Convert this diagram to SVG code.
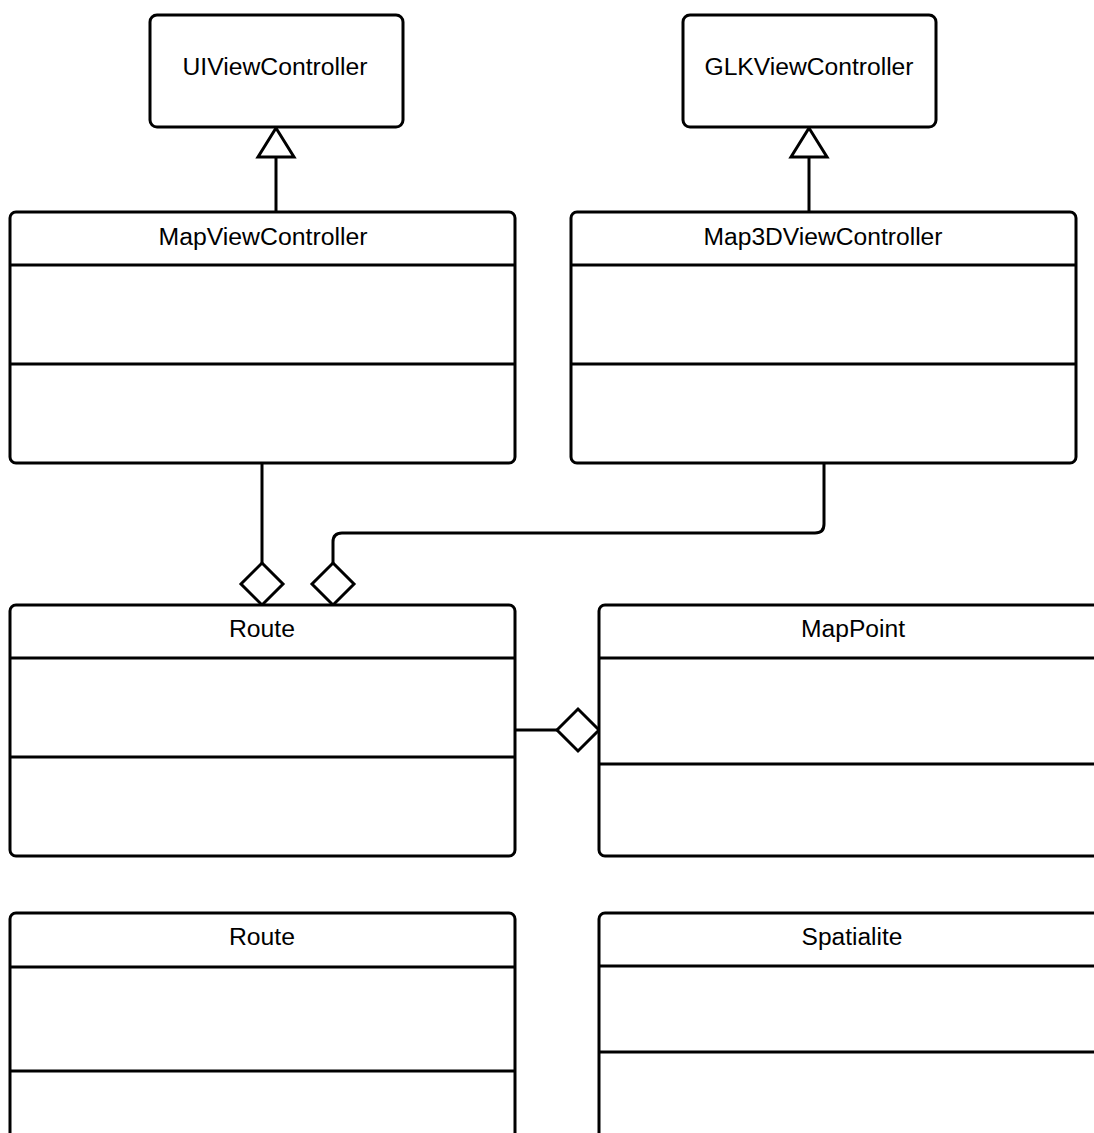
<svg xmlns="http://www.w3.org/2000/svg" width="1094" height="1133" viewBox="0 0 1094 1133">
<style>
.box{fill:#fff;stroke:#000;stroke-width:3}
.div{stroke:#000;stroke-width:3;fill:none}
.ln{stroke:#000;stroke-width:3;fill:none}
.hd{fill:#fff;stroke:#000;stroke-width:3}
text{font-family:"Liberation Sans",Arial,sans-serif;font-size:24.7px;fill:#000;text-anchor:middle}
</style>
<rect width="1094" height="1133" fill="#fff"/>
<g id="connectors">
<line class="ln" x1="276" y1="157" x2="276" y2="212"/>
<polygon class="hd" points="276,128 258,157 294,157"/>
<line class="ln" x1="809" y1="157" x2="809" y2="212"/>
<polygon class="hd" points="809,128 791,157 827,157"/>
<line class="ln" x1="262" y1="463" x2="262" y2="563"/>
<polygon class="hd" points="262,563 283,584 262,605 241,584"/>
<path class="ln" d="M824,463 V524 Q824,533 815,533 H342 Q333,533 333,542 V563"/>
<polygon class="hd" points="333,563 354,584 333,605 312,584"/>
<line class="ln" x1="515" y1="730" x2="557" y2="730"/>
<polygon class="hd" points="557,730 578,709 599,730 578,751"/>
</g>
<g id="UIViewController">
<rect class="box" x="150" y="15" width="253" height="112" rx="7"/>
<text x="275" y="75" textLength="185" lengthAdjust="spacingAndGlyphs">UIViewController</text>
</g>
<g id="GLKViewController">
<rect class="box" x="683" y="15" width="253" height="112" rx="7"/>
<text x="809" y="75" textLength="209" lengthAdjust="spacingAndGlyphs">GLKViewController</text>
</g>
<g id="MapViewController">
<rect class="box" x="10" y="212" width="505" height="251" rx="6"/>
<line class="div" x1="10" y1="265" x2="515" y2="265"/>
<line class="div" x1="10" y1="364" x2="515" y2="364"/>
<text x="263" y="245" textLength="209" lengthAdjust="spacingAndGlyphs">MapViewController</text>
</g>
<g id="Map3DViewController">
<rect class="box" x="571" y="212" width="505" height="251" rx="6"/>
<line class="div" x1="571" y1="265" x2="1076" y2="265"/>
<line class="div" x1="571" y1="364" x2="1076" y2="364"/>
<text x="823" y="245" textLength="239" lengthAdjust="spacingAndGlyphs">Map3DViewController</text>
</g>
<g id="Route1">
<rect class="box" x="10" y="605" width="505" height="251" rx="6"/>
<line class="div" x1="10" y1="658" x2="515" y2="658"/>
<line class="div" x1="10" y1="757" x2="515" y2="757"/>
<text x="262" y="637" textLength="66" lengthAdjust="spacingAndGlyphs">Route</text>
</g>
<g id="MapPoint">
<rect class="box" x="599" y="605" width="505" height="251" rx="6"/>
<line class="div" x1="599" y1="658" x2="1104" y2="658"/>
<line class="div" x1="599" y1="764" x2="1104" y2="764"/>
<text x="853" y="637" textLength="104" lengthAdjust="spacingAndGlyphs">MapPoint</text>
</g>
<g id="Route2">
<rect class="box" x="10" y="913" width="505" height="251" rx="6"/>
<line class="div" x1="10" y1="967" x2="515" y2="967"/>
<line class="div" x1="10" y1="1071" x2="515" y2="1071"/>
<text x="262" y="945" textLength="66" lengthAdjust="spacingAndGlyphs">Route</text>
</g>
<g id="Spatialite">
<rect class="box" x="599" y="913" width="505" height="251" rx="6"/>
<line class="div" x1="599" y1="966" x2="1104" y2="966"/>
<line class="div" x1="599" y1="1052" x2="1104" y2="1052"/>
<text x="852" y="945" textLength="101" lengthAdjust="spacingAndGlyphs">Spatialite</text>
</g>
</svg>
